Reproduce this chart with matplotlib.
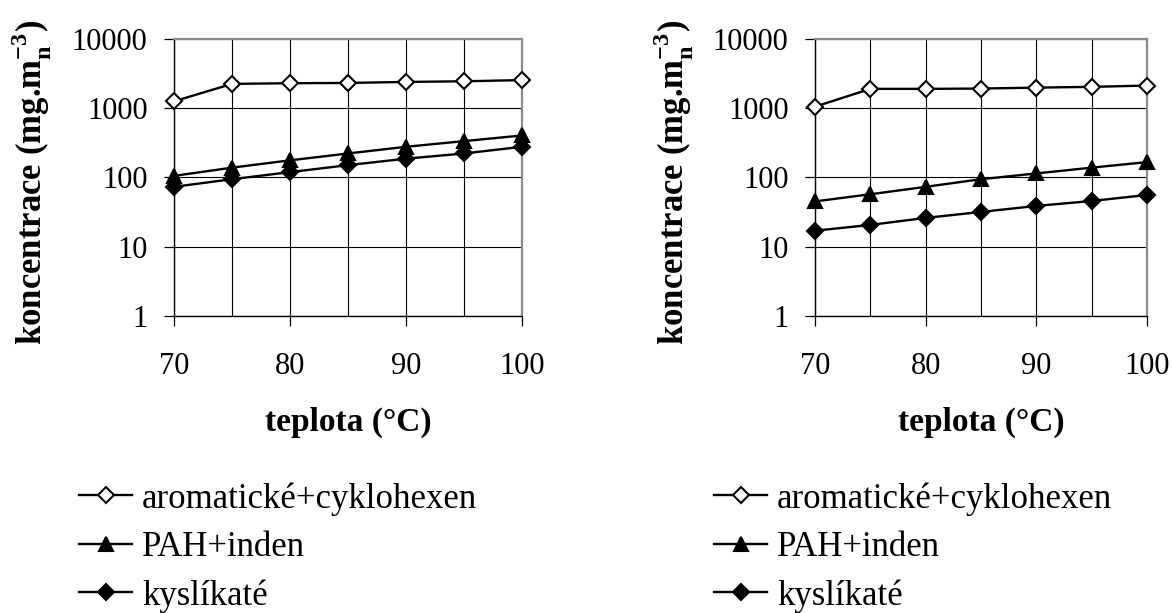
import matplotlib
matplotlib.use("Agg")
import matplotlib.pyplot as plt
from matplotlib.ticker import FixedLocator, FixedFormatter, NullLocator

# teploty mereni (°C)
teplota = [70, 75, 80, 85, 90, 95, 100]

# levy graf - koncentrace (mg/m3 n)
aromatickeA = [1250, 2230, 2280, 2300, 2380, 2430, 2530]
pahA = [105, 138, 176, 221, 276, 333, 402]
kyslikateA = [73, 94, 119, 150, 186, 221, 276]

# pravy graf
aromatickeB = [1045, 1890, 1890, 1910, 1970, 2020, 2110]
pahB = [45, 57, 73, 94, 114, 138, 166]
kyslikateB = [17, 20.6, 26, 31.7, 38.7, 45.6, 55.7]

nazvy = ["aromatické+cyklohexen", "PAH+inden", "kyslíkaté"]
yTicks = [1, 10, 100, 1000, 10000]
xTicks = [70, 80, 90, 100]

plt.rcParams['font.family'] = 'Liberation Serif'
plt.rcParams['mathtext.fontset'] = 'custom'
plt.rcParams['mathtext.rm'] = 'Liberation Serif'
plt.rcParams['mathtext.bf'] = 'Liberation Serif:bold'

fig = plt.figure(figsize=(11.73, 6.13), dpi=100)

styly = [
    dict(marker='D', markerfacecolor='white', markersize=8),
    dict(marker='^', markerfacecolor='black', markersize=10),
    dict(marker='D', markerfacecolor='black', markersize=8),
]


def graf(rect, serie, ylabelX, legendX):
    ax = fig.add_axes(rect)
    for hodnoty, nazev, st in zip(serie, nazvy, styly):
        ax.plot(teplota, hodnoty, color='black', lw=1.7, markeredgecolor='black',
                markeredgewidth=1.5, label=nazev, clip_on=False, zorder=3, **st)

    ax.set_yscale('log')
    ax.set_ylim(1, 10000)
    ax.set_xlim(70, 100)
    ax.yaxis.set_major_locator(FixedLocator(yTicks))
    ax.yaxis.set_major_formatter(FixedFormatter([str(v) for v in yTicks]))
    ax.yaxis.set_minor_locator(NullLocator())
    ax.set_xticks(xTicks)
    ax.set_xticks(teplota, minor=True)

    ax.grid(True, which='major', axis='y', color='black', lw=0.8)
    ax.grid(True, which='both', axis='x', color='black', lw=0.8)
    ax.set_axisbelow(True)
    ax.tick_params(which='minor', length=0)
    ax.tick_params(which='major', direction='out', length=7, width=0.9,
                   labelsize=22, color='black')
    ax.tick_params(axis='x', pad=19)
    ax.tick_params(axis='y', pad=12)

    for s in ['top', 'right']:
        ax.spines[s].set_color('#8c8c8c')
        ax.spines[s].set_linewidth(1.6)
    for s in ['left', 'bottom']:
        ax.spines[s].set_color('black')
        ax.spines[s].set_linewidth(1.0)

    ax.set_xlabel('teplota (°C)', fontsize=24, fontweight='bold')
    ax.xaxis.set_label_coords(0.5, -0.328)
    ax.set_ylabel(r'koncentrace (mg.m$_\mathbf{n}^\mathbf{-3}$)', fontsize=25,
                  fontweight='bold')
    ax.yaxis.set_label_coords(ylabelX, 0.48)

    ax.legend(loc='upper left', bbox_to_anchor=(legendX, 0.2137),
              bbox_transform=fig.transFigure, frameon=False, fontsize=25,
              borderpad=0, borderaxespad=0, handlelength=1.53,
              handletextpad=0.29, labelspacing=0.44)
    return ax


graf([174 / 1173, 1 - 316 / 613, 348 / 1173, 277.3 / 613],
     [aromatickeA, pahA, kyslikateA], -0.345, 79 / 1173)
graf([815 / 1173, 1 - 316 / 613, 332 / 1173, 277.3 / 613],
     [aromatickeB, pahB, kyslikateB], -0.358, 714 / 1173)

fig.savefig('out.png', dpi=100)
